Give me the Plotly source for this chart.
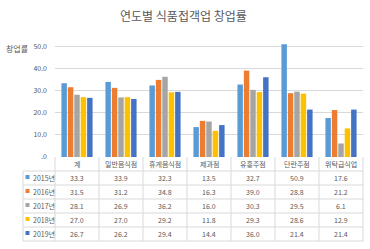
import plotly.graph_objects as go

categories = ["계", "일반음식점", "휴게음식점", "제과점", "유흥주점", "단란주점", "위탁급식업"]
years = ["2015년", "2016년", "2017년", "2018년", "2019년"]
values_2015 = [33.3, 33.9, 32.3, 13.5, 32.7, 50.9, 17.6]
values_2016 = [31.5, 31.2, 34.8, 16.3, 39.0, 28.8, 21.2]
values_2017 = [28.1, 26.9, 36.2, 16.0, 30.3, 29.5, 6.1]
values_2018 = [27.0, 27.0, 29.2, 11.8, 29.3, 28.6, 12.9]
values_2019 = [26.7, 26.2, 29.4, 14.4, 36.0, 21.4, 21.4]
tick_vals = [0, 10, 20, 30, 40, 50]
tick_labels = [".0", "10.0", "20.0", "30.0", "40.0", "50.0"]
colors = ["#5B9BD5", "#ED7D31", "#A5A5A5", "#FFC000", "#4472C4"]

series = [values_2015, values_2016, values_2017, values_2018, values_2019]

W, H = 370, 249
L, R, T, B = 55, 7, 44, 92
PW = W - L - R
PH = H - T - B
FONT = "Noto Sans CJK KR"
GRAY = "#595959"
LINE = "#D9D9D9"

def px(x):
    return (x - L) / PW

def py(y):
    return (H - B - y) / PH

fig = go.Figure()
for name, vals, c in zip(years, series, colors):
    fig.add_trace(go.Bar(x=categories, y=vals, name=name, marker_color=c,
                         marker_line_width=0, showlegend=False))

shapes = []
annotations = []

row_h = 14
top = H - B
rows_top = top + row_h
n_rows = len(years)
bottom = rows_top + n_rows * row_h
left = 23
ncat = len(categories)

def hline(x0, x1, y):
    shapes.append(dict(type="line", xref="paper", yref="paper", x0=px(x0), x1=px(x1),
                       y0=py(y), y1=py(y), line=dict(color=LINE, width=1)))

def vline(x, y0, y1):
    shapes.append(dict(type="line", xref="paper", yref="paper", x0=px(x), x1=px(x),
                       y0=py(y0), y1=py(y1), line=dict(color=LINE, width=1)))

for r in range(n_rows + 1):
    hline(left, L + PW, rows_top + r * row_h)
vline(left, rows_top, bottom)
for i in range(ncat + 1):
    vline(L + i * PW / ncat, top, bottom)

for i, cat in enumerate(categories):
    annotations.append(dict(x=(i + 0.5) / ncat, y=py(top + row_h / 2), xref="paper", yref="paper",
                            text=cat, showarrow=False, font=dict(size=7, color=GRAY, family=FONT),
                            xanchor="center", yanchor="middle"))

for r, (name, vals, c) in enumerate(zip(years, series, colors)):
    yc = rows_top + r * row_h + row_h / 2
    shapes.append(dict(type="rect", xref="paper", yref="paper", x0=px(25.5), x1=px(29.5),
                       y0=py(yc - 3), y1=py(yc + 1), fillcolor=c, line=dict(width=0)))
    annotations.append(dict(x=px(31), y=py(yc), xref="paper", yref="paper", text=name,
                            showarrow=False, font=dict(size=7, color=GRAY, family=FONT),
                            xanchor="left", yanchor="middle"))
    for i, v in enumerate(vals):
        annotations.append(dict(x=(i + 0.5) / ncat, y=py(yc), xref="paper", yref="paper",
                                text=f"{v:.1f}", showarrow=False,
                                font=dict(size=7, color=GRAY, family=FONT),
                                xanchor="center", yanchor="middle"))

annotations.append(dict(x=px(17), y=py(48), xref="paper", yref="paper", text="창업률",
                        showarrow=False, font=dict(size=8, color=GRAY, family=FONT),
                        xanchor="center", yanchor="middle"))
annotations.append(dict(x=px(183), y=py(15), xref="paper", yref="paper", text="연도별 식품접객업 창업률",
                        showarrow=False, font=dict(size=12, color=GRAY, family=FONT),
                        xanchor="center", yanchor="middle"))

fig.update_layout(
    width=W, height=H,
    margin=dict(l=L, r=R, t=T, b=B),
    paper_bgcolor="white", plot_bgcolor="white",
    barmode="group", bargap=0.27, bargroupgap=0.15,
    shapes=shapes, annotations=annotations,
    xaxis=dict(showticklabels=False, showgrid=False, zeroline=False, showline=False),
    yaxis=dict(range=[0, 51], tickvals=tick_vals, ticktext=tick_labels,
               showgrid=True, gridcolor=LINE, gridwidth=1, zeroline=False,
               tickfont=dict(size=7, color=GRAY, family=FONT), ticks="", ticklen=0,
               ticklabelstandoff=7, showline=False),
    font=dict(family=FONT),
)

fig.write_html("out.html")
